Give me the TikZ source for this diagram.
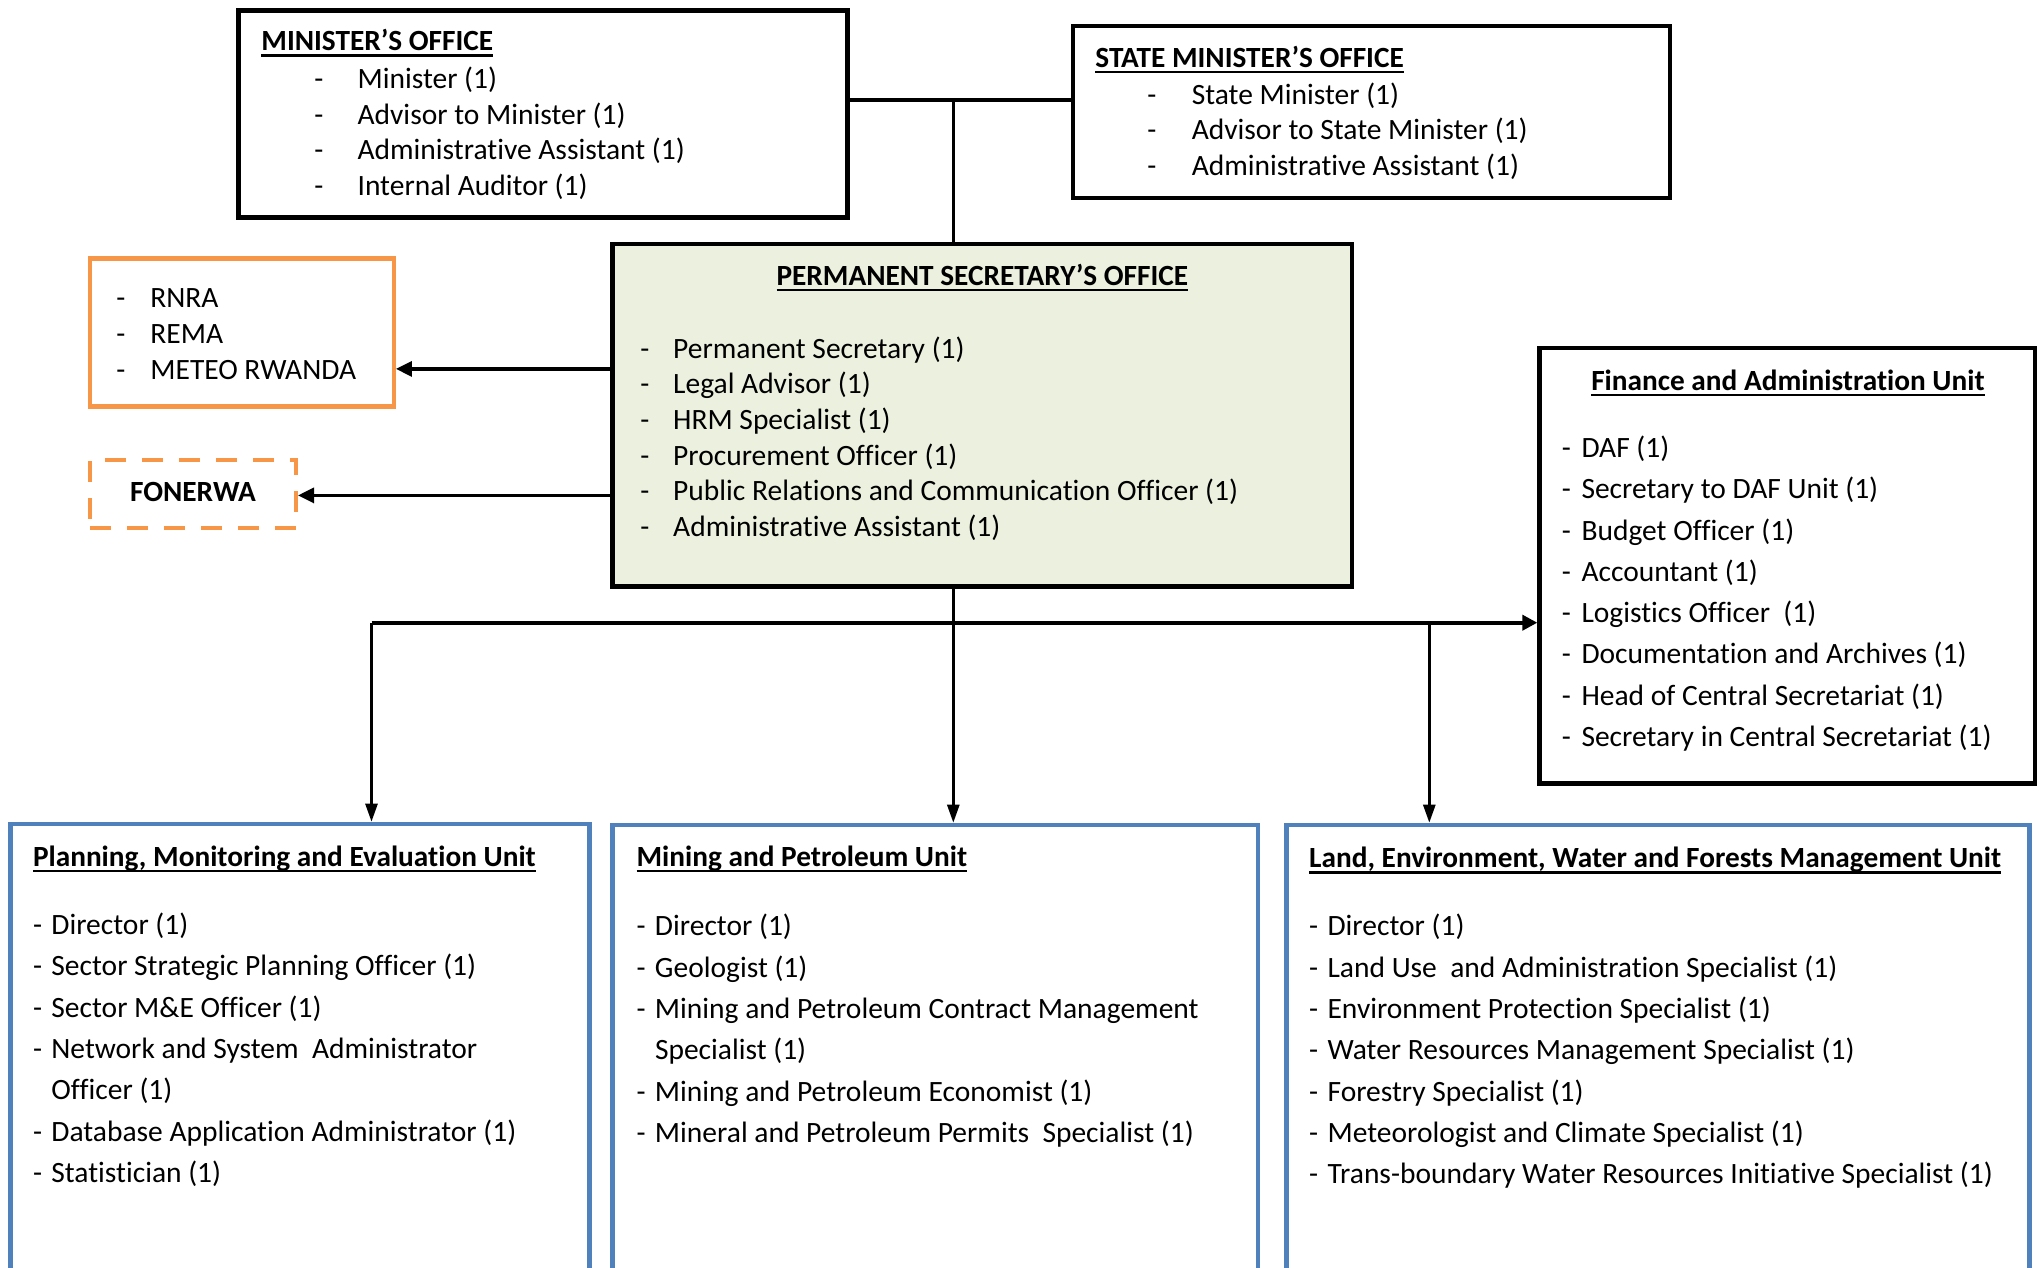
\documentclass[tikz,border=0pt]{standalone}
\usepackage{fontspec}
\setmainfont{Carlito}[Ligatures={NoCommon}]
\usetikzlibrary{arrows.meta,fit}

\definecolor{psgreen}{HTML}{EBF1DE}
\definecolor{agorange}{HTML}{F79646}
\definecolor{unitblue}{HTML}{4F81BD}

% underlined heading with a heavier rule than \underline
\newcommand\ulhead[1]{\setbox0\hbox{#1}\rlap{\rule[-2.9pt]{\wd0}{1.3pt}}\box0}
% one list line: dash in a fixed-width box, then the text
\newcommand\itm[2]{\makebox[#1][l]{-}#2}
\newcommand\rolelist[1]{\begin{minipage}[t]{600pt}\raggedright #1\end{minipage}}

\tikzset{
  box/.style={draw, line width=2.25pt, inner sep=0pt},
  blackbox/.style={box, draw=black},
  greenbox/.style={box, draw=black, fill=psgreen},
  orangebox/.style={box, draw=agorange, line width=2.2pt},
  orangedashed/.style={box, draw=agorange, line width=2pt, dash pattern=on 10.5pt off 8pt},
  bluebox/.style={box, draw=unitblue, line width=2.3pt},
  headtext/.style={inner sep=0pt, font=\bfseries\fontsize{14.65pt}{17.8pt}\selectfont},
  listsingle/.style={anchor=base west, inner sep=0pt, font=\fontsize{14.75pt}{17.8pt}\selectfont},
  listwide/.style={anchor=base west, inner sep=0pt, font=\fontsize{14.75pt}{20.65pt}\selectfont},
  toplink/.style={line width=2pt},
  downlink/.style={line width=1.6pt},
  sidearrow/.style={line width=1.6pt, -{Triangle[length=8pt,width=7.5pt]}},
  busarrow/.style={line width=2pt, -{Triangle[length=7.5pt,width=7.5pt]}},
  droparrow/.style={line width=1.3pt, -{Triangle[length=9pt,width=6pt]}},
}

\begin{document}
\begin{tikzpicture}[x=0.5pt,y=-0.5pt]
\useasboundingbox (0,0) rectangle (2044,1268);
\fill[white] (0,0) rectangle (2044,1268);
\clip (0,0) rectangle (2044,1268);

% ---- boxes ----
\node[blackbox, fit={(238.6,10.4) (847.3,217.7)}] (min) {};
\node[blackbox, fit={(1072.9,26.1) (1669.8,198.1)}] (state) {};
\node[greenbox, fit={(612.7,243.8) (1351.8,586.6)}] (ps) {};
\node[orangebox, fit={(90,258.5) (393.7,406.5)}] (ag) {};
\node[orangedashed, fit={(90,460) (296,528)}] (fon) {};
\node[blackbox, fit={(1539.6,348) (2035,783.5)}] (fin) {};
\node[bluebox, fit={(10.4,824) (589.2,1300)}] (pme) {};
\node[bluebox, fit={(612.7,825) (1258,1300)}] (mine) {};
\node[bluebox, fit={(1286.6,825) (2029.7,1300)}] (land) {};

% ---- minister's office ----
\node[headtext, anchor=base west] (mint) at (261,51) {\ulhead{MINISTER’S OFFICE}};
\node[listsingle] (minl) at (314,88.6) {\rolelist{%
  \itm{21.6pt}{Minister (1)}\\
  \itm{21.6pt}{Advisor to Minister (1)}\\
  \itm{21.6pt}{Administrative Assistant (1)}\\
  \itm{21.6pt}{Internal Auditor (1)}}};

% ---- state minister's office ----
\node[headtext, anchor=base west] (statet) at (1095,67.6) {\ulhead{STATE MINISTER’S OFFICE}};
\node[listsingle] (statel) at (1147,104.2) {\rolelist{%
  \itm{22.2pt}{State Minister (1)}\\
  \itm{22.2pt}{Advisor to State Minister (1)}\\
  \itm{22.2pt}{Administrative Assistant (1)}}};

% ---- permanent secretary's office ----
\node[headtext, anchor=base] (pst) at (982.3,285.5) {\ulhead{PERMANENT SECRETARY’S OFFICE}};
\node[listsingle] (psl) at (640,358.3) {\rolelist{%
  \itm{16.4pt}{Permanent Secretary (1)}\\
  \itm{16.4pt}{Legal Advisor (1)}\\
  \itm{16.4pt}{HRM Specialist (1)}\\
  \itm{16.4pt}{Procurement Officer (1)}\\
  \itm{16.4pt}{Public Relations and Communication Officer (1)}\\
  \itm{16.4pt}{Administrative Assistant (1)}}};

% ---- affiliated agencies ----
\node[listsingle] (agl) at (116,307.8) {\rolelist{%
  \itm{17pt}{RNRA}\\
  \itm{17pt}{REMA}\\
  \itm{17pt}{METEO RWANDA}}};
\node[headtext, anchor=base] (font) at (193,501.5) {FONERWA};

% ---- finance and administration ----
\node[headtext, anchor=base] (fint) at (1787.9,390.6) {\ulhead{Finance and Administration Unit}};
\node[listwide] (finl) at (1561.5,457.4) {\rolelist{%
  \itm{9.8pt}{DAF (1)}\\
  \itm{9.8pt}{Secretary to DAF Unit (1)}\\
  \itm{9.8pt}{Budget Officer (1)}\\
  \itm{9.8pt}{Accountant (1)}\\
  \itm{9.8pt}{Logistics Officer\ \ (1)}\\
  \itm{9.8pt}{Documentation and Archives (1)}\\
  \itm{9.8pt}{Head of Central Secretariat (1)}\\
  \itm{9.8pt}{Secretary in Central Secretariat (1)}}};

% ---- planning, monitoring and evaluation ----
\node[headtext, anchor=base west] (pmet) at (32.6,866.5) {\ulhead{Planning, Monitoring and Evaluation Unit}};
\node[listwide] (pmel) at (32.6,934.6) {\rolelist{%
  \itm{9.2pt}{Director (1)}\\
  \itm{9.2pt}{Sector Strategic Planning Officer (1)}\\
  \itm{9.2pt}{Sector M\&E Officer (1)}\\
  \itm{9.2pt}{Network and System\ \ Administrator}\\
  \makebox[9.2pt]{}Officer (1)\\
  \itm{9.2pt}{Database Application Administrator (1)}\\
  \itm{9.2pt}{Statistician (1)}}};

% ---- mining and petroleum ----
\node[headtext, anchor=base west] (minet) at (636.2,866.5) {\ulhead{Mining and Petroleum Unit}};
\node[listwide] (minel) at (636.2,935.9) {\rolelist{%
  \itm{9.2pt}{Director (1)}\\
  \itm{9.2pt}{Geologist (1)}\\
  \itm{9.2pt}{Mining and Petroleum Contract Management}\\
  \makebox[9.2pt]{}Specialist (1)\\
  \itm{9.2pt}{Mining and Petroleum Economist (1)}\\
  \itm{9.2pt}{Mineral and Petroleum Permits\ \ Specialist (1)}}};

% ---- land, environment, water and forests ----
\node[headtext, anchor=base west] (landt) at (1308.8,867.8) {\ulhead{Land, Environment, Water and Forests Management Unit}};
\node[listwide] (landl) at (1308.8,935.9) {\rolelist{%
  \itm{9.2pt}{Director (1)}\\
  \itm{9.2pt}{Land Use\ \ and Administration Specialist (1)}\\
  \itm{9.2pt}{Environment Protection Specialist (1)}\\
  \itm{9.2pt}{Water Resources Management Specialist (1)}\\
  \itm{9.2pt}{Forestry Specialist (1)}\\
  \itm{9.2pt}{Meteorologist and Climate Specialist (1)}\\
  \itm{9.2pt}{Trans-boundary Water Resources Initiative Specialist (1)}}};

% ---- connectors ----
\coordinate (topjoin) at (953.3,99.7);
\coordinate (agrow) at (0,368.9);
\coordinate (fonrow) at (0,495.4);
\coordinate (busL) at (371.5,622.7);
\coordinate (busR) at (1429.3,622.7);

\draw[toplink] (min.east |- topjoin) -- (state.west |- topjoin);
\draw[downlink] (topjoin) -- (ps.north -| topjoin);
\draw[sidearrow] (ps.west |- agrow) -- (ag.east |- agrow);
\draw[sidearrow] (ps.west |- fonrow) -- (fon.east |- fonrow);
\draw[busarrow] (busL) -- (fin.west |- busL);
\draw[droparrow] (busL) -- (pme.north -| busL);
\draw[droparrow] (ps.south -| topjoin) -- (mine.north -| topjoin);
\draw[droparrow] (busR) -- (land.north -| busR);
\end{tikzpicture}
\end{document}
